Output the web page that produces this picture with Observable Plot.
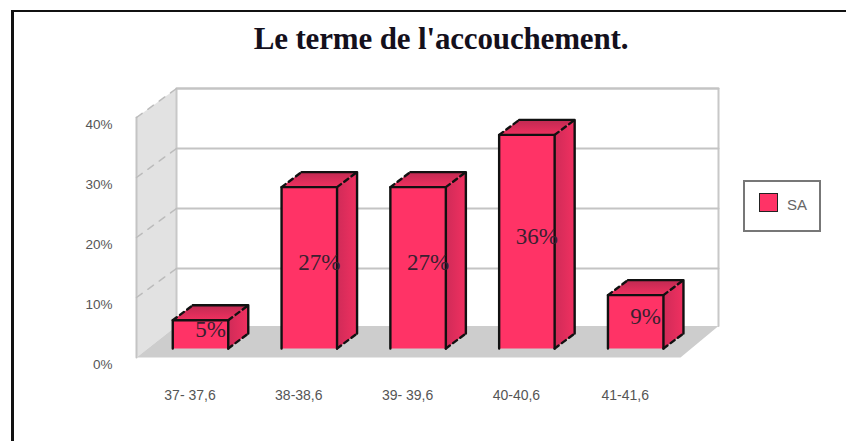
<!DOCTYPE html>
<html><head><meta charset="utf-8">
<script src="https://cdn.jsdelivr.net/npm/d3@7"></script>
<script src="https://cdn.jsdelivr.net/npm/@observablehq/plot@0.6"></script>
<style>
html,body{margin:0;padding:0;background:#fff;width:846px;height:441px;overflow:hidden}
#chart{position:absolute;left:0;top:0}
#border{position:absolute;left:11px;top:10px;width:835px;height:431px;border-left:3px solid #111;border-top:2px solid #111;box-sizing:border-box}
#title{position:absolute;left:241px;width:400px;top:21px;text-align:center;font:bold 31px "Liberation Serif",serif;letter-spacing:-.15px;color:#14101c;white-space:nowrap}
#legend{position:absolute;left:743px;top:180px;width:78px;height:52px;box-sizing:border-box;border:2px solid #777;background:#fff;font:15px "Liberation Sans",sans-serif;color:#666}
#legend i{position:absolute;left:14px;top:11px;width:19px;height:19px;background:#ff3366;border:1px solid #222;box-sizing:border-box}
#legend span{position:absolute;left:42px;top:14px}
</style></head><body>
<div id="border"></div>
<div id="chart"></div>
<div id="title">Le terme de l'accouchement.</div>
<div id="legend"><i></i><span>SA</span></div>
<script>
const categories = ["37- 37,6","38-38,6","39- 39,6","40-40,6","41-41,6"];
const heights = [4.7, 26.9, 26.9, 35.6, 8.9];
const barLabels = ["5%","27%","27%","36%","9%"];
const yTicks = [0,10,20,30,40];

// scale geometry: category step in px, percent step in px
const stepX = 108.8, x0 = 200, k = 6, base = 348;
const mL = 115, mB = 56, W = 846, H = 441;
const px = p => (p - x0) / stepX, py = p => (base - p) / k;

// 3D depth, in scale units
const barHalf = 0.255, barDX = 0.184, barDV = 2.5;
const wallL = px(136), wallB = px(176), wallR = px(718), floorR = px(680);
const frontV = py(357), backV = py(328), floorBack = py(325.5);

const poly = (id, pts) => pts.map(([x,y]) => ({id,x,y}));
const side = poly("side", [[wallL,frontV],[wallB,floorBack],[wallB,backV+40],[wallL,frontV+40]]);
const floor = poly("floor", [[wallL,frontV],[wallB,floorBack],[wallR,floorBack],[floorR,frontV]]);
const backGrid = yTicks.slice(1).map(g => poly("g"+g, [[wallB,backV+g],[wallR,backV+g]])).flat();
const sideGrid = yTicks.slice(1).map(g => poly("s"+g, [[wallL,frontV+g],[wallB,backV+g]])).flat();
const wallEdge = poly("edge", [[wallB,floorBack],[wallB,backV+40],[wallR,backV+40],[wallR,floorBack]]);
const sideEdge = poly("sideEdge", [[wallL,frontV],[wallL,frontV+40]]);

const fronts=[], tops=[], sides=[], solid=[], dashed=[];
heights.forEach((h,i) => {
  const l=i-barHalf, r=i+barHalf, b=l+barDX, c=r+barDX;
  fronts.push(...poly("f"+i, [[l,0],[r,0],[r,h],[l,h]]));
  tops.push(...poly("t"+i, [[l,h],[r,h],[c,h+barDV],[b,h+barDV]]));
  sides.push(...poly("s"+i, [[r,0],[c,barDV],[c,h+barDV],[r,h]]));
  solid.push(...poly("o"+i, [[l,0],[l,h],[r,h],[r,0]]));
  solid.push(...poly("b"+i, [[b,h+barDV],[c,h+barDV],[c,barDV]]));
  dashed.push(...poly("d1"+i, [[l,h],[b,h+barDV]]));
  dashed.push(...poly("d2"+i, [[r,h],[c,h+barDV]]));
  dashed.push(...poly("d3"+i, [[r,0],[c,barDV]]));
});
const labelData = heights.map((h,i)=>({i,h,t:barLabels[i]}));
const L = {x:"x",y:"y",z:"id"};

const plot = Plot.plot({
  width:W, height:H, marginLeft:mL, marginRight:0, marginTop:0, marginBottom:mB,
  style:{background:"transparent"},
  x:{type:"linear", domain:[px(mL),px(W)]},
  y:{domain:[py(H-mB),py(0)]},
  marks:[
    Plot.line(side,{...L,curve:"linear-closed",fill:"#e2e2e2",stroke:"none"}),
    Plot.line(sideEdge,{...L,stroke:"#c4c4c4",strokeWidth:2}),
    Plot.line(floor,{...L,curve:"linear-closed",fill:"#cdcdcd",stroke:"none"}),
    Plot.line(wallEdge,{...L,stroke:"#c8c8c8",strokeWidth:2}),
    Plot.line(backGrid,{...L,stroke:"#c4c4c4",strokeWidth:2}),
    Plot.line(sideGrid,{...L,stroke:"#bcbcbc",strokeWidth:1.5,strokeDasharray:"7 7"}),
    Plot.line(tops,{...L,curve:"linear-closed",fill:"url(#topG)",stroke:"none"}),
    Plot.line(sides,{...L,curve:"linear-closed",fill:"url(#sideG)",stroke:"none"}),
    Plot.line(fronts,{...L,curve:"linear-closed",fill:"#ff3366",stroke:"none"}),
    Plot.line(dashed,{...L,stroke:"#111",strokeWidth:2.4,strokeDasharray:"5 4"}),
    Plot.line(solid,{...L,stroke:"#111",strokeWidth:2.4}),
    Plot.text(labelData,{x:"i",y:d=>d.h/2,text:"t",dx:10,dy:-5,fill:"#3a2030",fontSize:23,fontFamily:"Liberation Serif"}),
    Plot.axisY({ticks:yTicks,tickSize:0,tickPadding:3,dy:16,tickFormat:d=>d+"%",fontSize:13.5,fontFamily:"Liberation Sans",fill:"#555",label:null}),
    Plot.axisX({ticks:[0,1,2,3,4],tickSize:0,tickPadding:5,dx:-10.5,tickFormat:i=>categories[i],fontSize:14,fontFamily:"Liberation Sans",fill:"#555",label:null})
  ]
});
const svg = d3.select(plot);
const defs = svg.insert("defs",":first-child");
const grad=(id,x1,y1,x2,y2,a,b)=>{const g=defs.append("linearGradient").attr("id",id).attr("x1",x1).attr("y1",y1).attr("x2",x2).attr("y2",y2);
  g.append("stop").attr("offset","0%").attr("stop-color",a);g.append("stop").attr("offset","100%").attr("stop-color",b);};
grad("topG",0,1,0,0,"#f0305f","#c02a52");
grad("sideG",0,0,1,0,"#d02b58","#f03060");
document.getElementById("chart").appendChild(plot);
</script></body></html>
